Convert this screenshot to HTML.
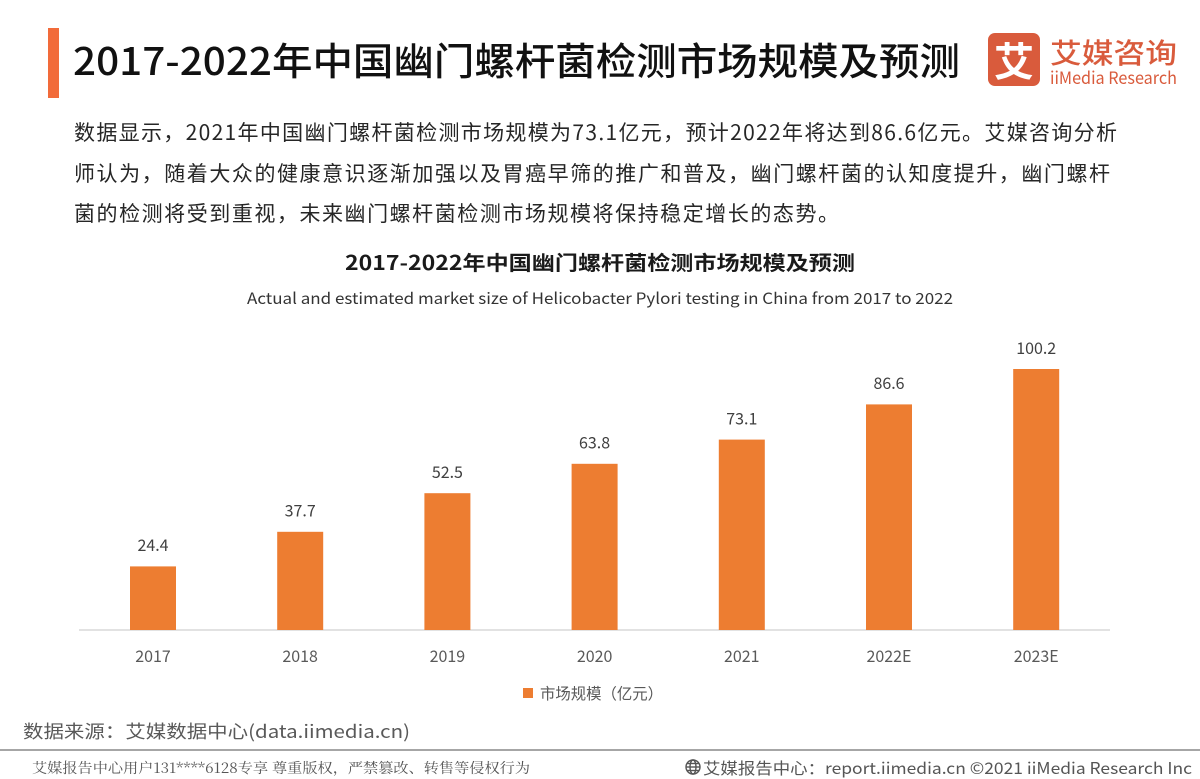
<!DOCTYPE html>
<html>
<head>
<meta charset="utf-8">
<style>
  html,body{margin:0;padding:0;background:#fff;}
  svg{display:block;}
  text{font-family:"Noto Sans CJK SC","Liberation Sans",sans-serif;}
  .serif{font-family:"Noto Serif CJK SC","Liberation Serif",serif;}
</style>
</head>
<body>
<svg width="1200" height="779" viewBox="0 0 1200 779" xmlns="http://www.w3.org/2000/svg">
  <rect x="0" y="0" width="1200" height="779" fill="#ffffff"/>

  <!-- Header -->
  <rect x="48" y="28" width="11" height="70" fill="#F26B3A"/>
  <text x="73" y="75" font-size="38" font-weight="500" fill="#111" textLength="887" lengthAdjust="spacingAndGlyphs">2017-2022年中国幽门螺杆菌检测市场规模及预测</text>

  <!-- Logo -->
  <rect x="988" y="33" width="52" height="53" rx="7" ry="7" fill="#D95B3C"/>
  <text x="1014" y="76" font-size="40" font-weight="bold" fill="#fff" text-anchor="middle">艾</text>
  <text x="1050" y="63" font-size="28" font-weight="500" fill="#D95B3C" textLength="127" lengthAdjust="spacingAndGlyphs">艾媒咨询</text>
  <text x="1050" y="84" font-size="17" fill="#D95B3C" textLength="127" lengthAdjust="spacingAndGlyphs">iiMedia Research</text>

  <!-- Paragraph -->
  <g font-size="21" fill="#262626">
    <text x="74" y="140" textLength="1043" lengthAdjust="spacing">数据显示，2021年中国幽门螺杆菌检测市场规模为73.1亿元，预计2022年将达到86.6亿元。艾媒咨询分析</text>
    <text x="74" y="181" textLength="1036" lengthAdjust="spacing">师认为，随着大众的健康意识逐渐加强以及胃癌早筛的推广和普及，幽门螺杆菌的认知度提升，幽门螺杆</text>
    <text x="74" y="221" textLength="765" lengthAdjust="spacing">菌的检测将受到重视，未来幽门螺杆菌检测市场规模将保持稳定增长的态势。</text>
  </g>

  <!-- Chart titles -->
  <text x="600" y="270" font-size="20" font-weight="bold" fill="#1a1a1a" text-anchor="middle" textLength="510" lengthAdjust="spacingAndGlyphs">2017-2022年中国幽门螺杆菌检测市场规模及预测</text>
  <text x="600" y="304" font-size="15.5" fill="#333" text-anchor="middle" textLength="706" lengthAdjust="spacingAndGlyphs">Actual and estimated market size of Helicobacter Pylori testing in China from 2017 to 2022</text>

  <!-- Axis line -->
  <line x1="79" y1="630" x2="1110" y2="630" stroke="#D9D9D9" stroke-width="1.5"/>

  <!-- Bars -->
  <g fill="#ED7D31">
    <rect x="130" y="566.4" width="46" height="63.6"/>
    <rect x="277.2" y="531.8" width="46" height="98.2"/>
    <rect x="424.4" y="493.2" width="46" height="136.8"/>
    <rect x="571.6" y="463.8" width="46" height="166.2"/>
    <rect x="718.8" y="439.6" width="46" height="190.4"/>
    <rect x="866" y="404.4" width="46" height="225.6"/>
    <rect x="1013.2" y="369" width="46" height="261"/>
  </g>

  <!-- Value labels -->
  <g font-size="16" fill="#404040" text-anchor="middle">
    <text x="153" y="551">24.4</text>
    <text x="300.2" y="516.5">37.7</text>
    <text x="447.4" y="478">52.5</text>
    <text x="594.6" y="448.5">63.8</text>
    <text x="741.8" y="424.5">73.1</text>
    <text x="889" y="389">86.6</text>
    <text x="1036.2" y="354">100.2</text>
  </g>

  <!-- Category labels -->
  <g font-size="16" fill="#595959" text-anchor="middle">
    <text x="153" y="662">2017</text>
    <text x="300.2" y="662">2018</text>
    <text x="447.4" y="662">2019</text>
    <text x="594.6" y="662">2020</text>
    <text x="741.8" y="662">2021</text>
    <text x="889" y="662">2022E</text>
    <text x="1036.2" y="662">2023E</text>
  </g>

  <!-- Legend -->
  <rect x="523" y="688" width="10" height="10" fill="#ED7D31"/>
  <text x="540" y="699" font-size="15.5" fill="#595959" textLength="123" lengthAdjust="spacingAndGlyphs">市场规模（亿元）</text>

  <!-- Source -->
  <text x="23" y="738" font-size="18" fill="#595959" textLength="387" lengthAdjust="spacingAndGlyphs">数据来源：艾媒数据中心(data.iimedia.cn)</text>

  <!-- Footer line -->
  <rect x="0" y="749" width="1200" height="2" fill="#A6A6A6"/>

  <!-- Footer left -->
  <text class="serif" x="32" y="773" font-size="14" fill="#555" textLength="498" lengthAdjust="spacingAndGlyphs">艾媒报告中心用户131****6128专享 尊重版权，严禁篡改、转售等侵权行为</text>

  <!-- Footer right -->
  <g transform="translate(693,767)" fill="none" stroke="#555" stroke-width="1.4">
    <circle cx="0" cy="0" r="7"/>
    <ellipse cx="0" cy="0" rx="3" ry="7"/>
    <line x1="-7" y1="0" x2="7" y2="0"/>
    <line x1="-6" y1="-3.5" x2="6" y2="-3.5"/>
    <line x1="-6" y1="3.5" x2="6" y2="3.5"/>
  </g>
  <text x="703" y="774" font-size="16" fill="#555" textLength="489" lengthAdjust="spacingAndGlyphs">艾媒报告中心：report.iimedia.cn   ©2021  iiMedia Research  Inc</text>
</svg>
</body>
</html>
